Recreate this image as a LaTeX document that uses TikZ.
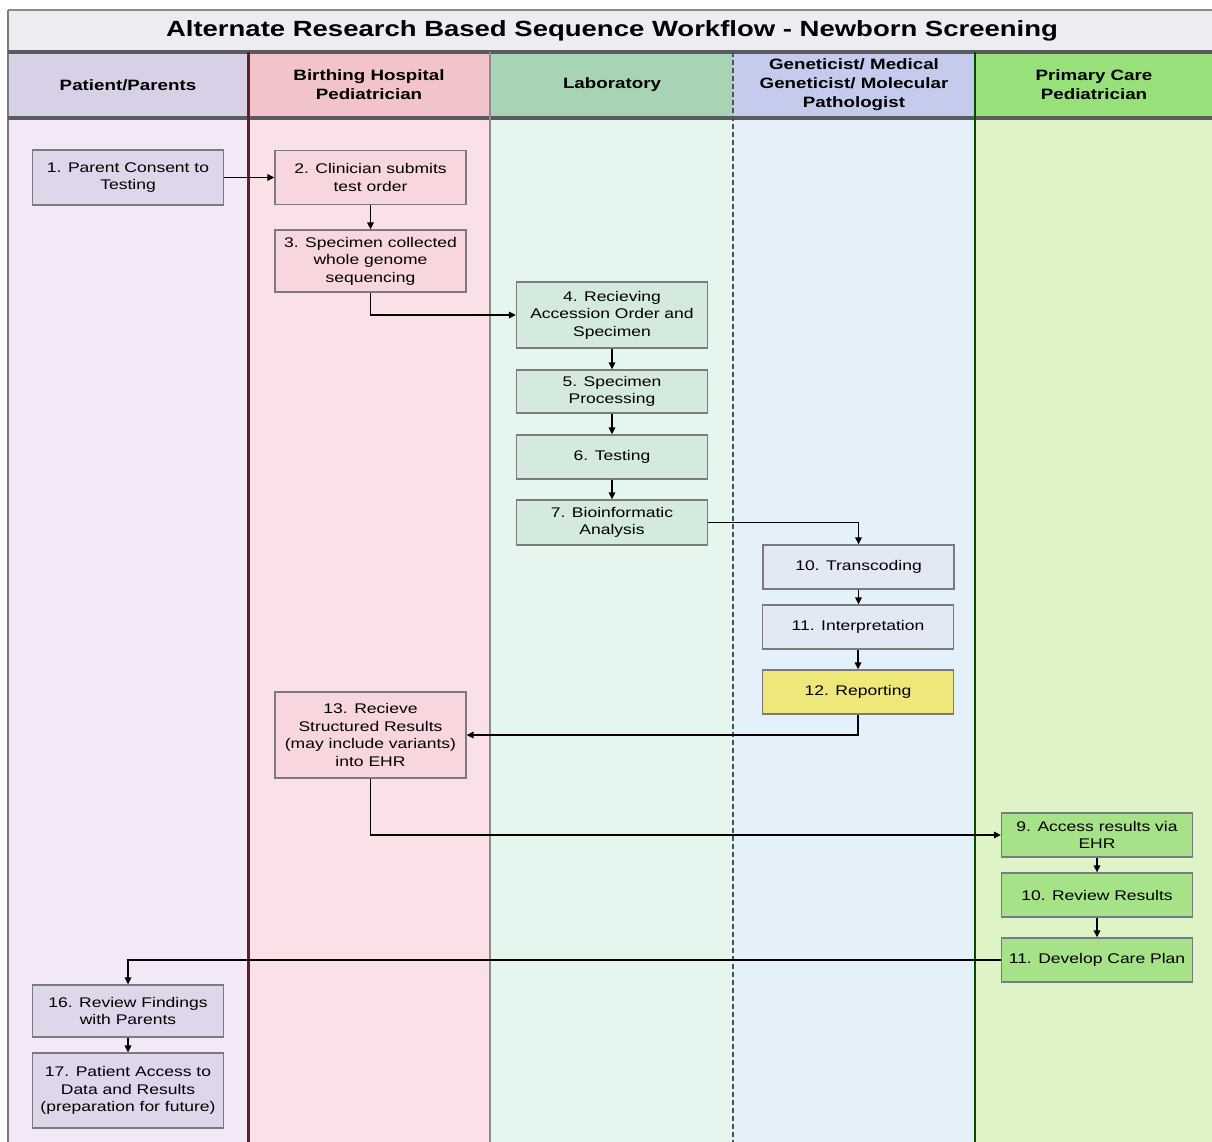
\documentclass[tikz,border=0pt]{standalone}
\usepackage{fontspec}
\setmainfont{Liberation Sans}[FakeStretch=1.25]
\usetikzlibrary{arrows.meta}

% lane colours
\definecolor{pbody}{RGB}{243,231,248}
\definecolor{phead}{RGB}{216,208,230}
\definecolor{hbody}{RGB}{249,225,231}
\definecolor{hhead}{RGB}{242,196,201}
\definecolor{lbody}{RGB}{228,246,238}
\definecolor{lhead}{RGB}{168,212,182}
\definecolor{gbody}{RGB}{228,240,250}
\definecolor{ghead}{RGB}{197,203,236}
\definecolor{cbody}{RGB}{222,243,198}
\definecolor{chead}{RGB}{152,224,122}
\definecolor{titleband}{RGB}{236,236,242}
% box fills
\definecolor{pbox}{RGB}{222,214,234}
\definecolor{hbox}{RGB}{248,214,221}
\definecolor{lbox}{RGB}{212,234,221}
\definecolor{gbox}{RGB}{226,232,244}
\definecolor{ybox}{RGB}{238,232,122}
\definecolor{cbox}{RGB}{166,226,136}
\definecolor{maroon}{RGB}{96,30,45}
\definecolor{rule}{RGB}{90,90,95}

\begin{document}
\begin{tikzpicture}[x=1pt,y=-1pt,
  box/.style={draw=rule!80, line width=1.3pt, align=center,
    font=\fontsize{14}{17.5}\selectfont, inner sep=1pt,
    minimum width=191pt},
  lanehead/.style={align=center, font=\fontsize{15}{19}\selectfont\bfseries},
  arr/.style={line width=1.5pt, -{Triangle[length=7pt,width=6.5pt]}}
]
\useasboundingbox (0,0) rectangle (1212,1142);
\fill[white] (0,0) rectangle (1212,1142);

% lane bodies and headers
\fill[pbody] (8,118) rectangle (248,1142);
\fill[hbody] (248,118) rectangle (490,1142);
\fill[lbody] (490,118) rectangle (733,1142);
\fill[gbody] (733,118) rectangle (975,1142);
\fill[cbody] (975,118) rectangle (1212,1142);
\fill[phead] (8,52) rectangle (248,118);
\fill[hhead] (248,52) rectangle (490,118);
\fill[lhead] (490,52) rectangle (733,118);
\fill[ghead] (733,52) rectangle (975,118);
\fill[chead] (975,52) rectangle (1212,118);
\fill[titleband] (8,10) rectangle (1212,52);

% frame and lane separators
\draw[rule!70, line width=1.5pt] (8,10) -- (1212,10);
\draw[rule!80, line width=1.5pt] (8,10) -- (8,1142);
\draw[rule, line width=3.5pt] (8,52) -- (1212,52);
\draw[rule, line width=4pt] (8,118) -- (1212,118);
\draw[maroon, line width=3pt] (248,52) -- (248,1142);
\draw[rule!70, line width=1.5pt] (490,52) -- (490,1142);
\draw[rule!90!black, line width=1.5pt, dash pattern=on 5pt off 3pt] (733,52) -- (733,1142);
\draw[green!30!black, line width=2pt] (975,52) -- (975,1142);

% titles
\node[font=\fontsize{22}{26}\selectfont\bfseries] (title) at (612,31)
  {Alternate Research Based Sequence Workflow - Newborn Screening};
\node[lanehead] (h1) at (128,85) {Patient/Parents};
\node[lanehead] (h2) at (369,85) {Birthing Hospital\\Pediatrician};
\node[lanehead] (h3) at (612,85) {Laboratory};
\node[lanehead] (h4) at (854,85) {Geneticist/ Medical\\Geneticist/ Molecular\\Pathologist};
\node[lanehead] (h5) at (1094,85) {Primary Care\\Pediatrician};

% process steps
\node[box, fill=pbox, minimum height=55pt] (n1) at (128,177.5) {1. Parent Consent to\\Testing};
\node[box, fill=hbox, minimum height=54pt] (n2) at (370.5,177.5) {2. Clinician submits\\test order};
\node[box, fill=hbox, minimum height=62pt] (n3) at (370.5,261) {3. Specimen collected\\whole genome\\sequencing};
\node[box, fill=lbox, minimum height=66pt] (n4) at (612,315) {4. Recieving\\Accession Order and\\Specimen};
\node[box, fill=lbox, minimum height=43pt] (n5) at (612,391.5) {5. Specimen\\Processing};
\node[box, fill=lbox, minimum height=44pt] (n6) at (612,457) {6. Testing};
\node[box, fill=lbox, minimum height=45pt] (n7) at (612,522.5) {7. Bioinformatic\\Analysis};
\node[box, fill=gbox, minimum height=44pt] (nT) at (858.5,567) {10. Transcoding};
\node[box, fill=gbox, minimum height=44pt] (nI) at (858,627) {11. Interpretation};
\node[box, fill=ybox, minimum height=44pt] (nR) at (858,692) {12. Reporting};
\node[box, fill=hbox, minimum height=86pt] (n13) at (370.5,735) {13. Recieve\\Structured Results\\(may include variants)\\into EHR};
\node[box, fill=cbox, minimum height=44pt] (n9) at (1097,835) {9. Access results via\\EHR};
\node[box, fill=cbox, minimum height=44pt] (n10) at (1097,895) {10. Review Results};
\node[box, fill=cbox, minimum height=44pt] (n11) at (1097,960) {11. Develop Care Plan};
\node[box, fill=pbox, minimum height=52pt] (n16) at (128,1011) {16. Review Findings\\with Parents};
\node[box, fill=pbox, minimum height=75pt] (n17) at (128,1090.5) {17. Patient Access to\\Data and Results\\(preparation for future)};

% connectors
\draw[arr] (n1.east) -- (n1.east -| n2.west);
\draw[arr] (n2) -- (n3);
\draw[arr] (n3.south) |- (n4.west);
\draw[arr] (n4) -- (n5);
\draw[arr] (n5) -- (n6);
\draw[arr] (n6) -- (n7);
\draw[arr] (n7.east) -| (nT.north);
\draw[arr] (nT.south) -- (nT.south |- nI.north);
\draw[arr] (nI) -- (nR);
\draw[arr] (nR.south) |- (n13.east);
\draw[arr] (n13.south) |- (n9.west);
\draw[arr] (n9) -- (n10);
\draw[arr] (n10) -- (n11);
\draw[arr] (n11.west) -| (n16.north);
\draw[arr] (n16) -- (n17);
\end{tikzpicture}
\end{document}
